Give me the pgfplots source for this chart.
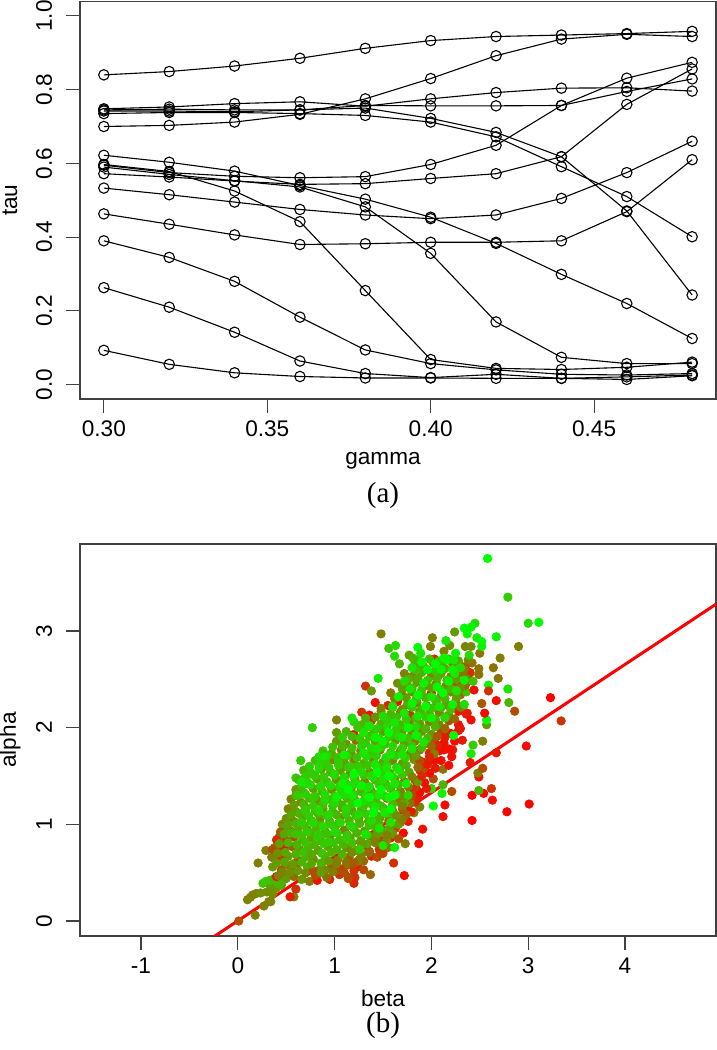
\documentclass[border=0pt]{standalone}
\usepackage{fontspec}
\setmainfont{Liberation Sans}
\newfontfamily\capfont{Liberation Serif}
\usepackage{pgfplots}
\pgfplotsset{compat=1.18}
\pgfplotsset{rbox/.style={
  scale only axis, axis line style={draw=black!75,line width=.55pt},
  tick style={draw=black!75,line width=.55pt},
  tick align=outside, major tick length=7pt,
  xtick pos=bottom, ytick pos=left, clip=true,
  tick label style={font=\fontsize{11.3}{13}\selectfont,inner sep=0pt},
  label style={font=\fontsize{11.3}{13}\selectfont},
  /pgf/number format/assume math mode=true,
  xticklabel style={anchor=center,yshift=-8pt},
  yticklabel style={rotate=90,anchor=center,yshift=11pt},
  xlabel style={at={(axis description cs:0.5,0)},anchor=center,yshift=-31pt,xshift=-7.5pt},
  ylabel style={at={(axis description cs:0,0.5)},anchor=center,rotate=0,yshift=35pt},
}}
\pgfplotsset{ser/.style={black,line width=.55pt,mark=o,mark size=2.6pt,mark options={line width=.55pt,fill=none,solid}}}
\begin{document}
\begin{tikzpicture}[x=1pt,y=1pt]
\path[use as bounding box,fill=white] (0,0) rectangle (358.5,525);
\begin{axis}[rbox,at={(40pt,325.5pt)},anchor=south west,width=318pt,height=198.75pt,
  xmin=0.2927,xmax=0.4873,ymin=-0.039,ymax=1.039,
  xtick={0.30,0.35,0.40,0.45},ytick={0,0.2,0.4,0.6,0.8,1.0},
  /pgf/number format/.cd,fixed,fixed zerofill,precision=2,
  /pgfplots/.cd,
  yticklabel style={/pgf/number format/precision=1},
  xlabel={gamma},ylabel={tau}]
\addplot[ser] coordinates {(0.30,0.840)(0.32,0.849)(0.34,0.864)(0.36,0.885)(0.38,0.912)(0.40,0.933)(0.42,0.944)(0.44,0.948)(0.46,0.952)(0.48,0.958)};
\addplot[ser] coordinates {(0.30,0.700)(0.32,0.703)(0.34,0.712)(0.36,0.733)(0.38,0.775)(0.40,0.830)(0.42,0.892)(0.44,0.937)(0.46,0.950)(0.48,0.944)};
\addplot[ser] coordinates {(0.30,0.748)(0.32,0.753)(0.34,0.762)(0.36,0.767)(0.38,0.755)(0.40,0.775)(0.42,0.792)(0.44,0.804)(0.46,0.805)(0.48,0.796)};
\addplot[ser] coordinates {(0.30,0.745)(0.32,0.747)(0.34,0.745)(0.36,0.745)(0.38,0.757)(0.40,0.756)(0.42,0.756)(0.44,0.757)(0.46,0.795)(0.48,0.829)};
\addplot[ser] coordinates {(0.30,0.742)(0.32,0.742)(0.34,0.740)(0.36,0.745)(0.38,0.750)(0.40,0.722)(0.42,0.684)(0.44,0.618)(0.46,0.471)(0.48,0.243)};
\addplot[ser] coordinates {(0.30,0.735)(0.32,0.738)(0.34,0.738)(0.36,0.735)(0.38,0.730)(0.40,0.712)(0.42,0.672)(0.44,0.591)(0.46,0.510)(0.48,0.401)};
\addplot[ser] coordinates {(0.30,0.622)(0.32,0.603)(0.34,0.579)(0.36,0.540)(0.38,0.503)(0.40,0.454)(0.42,0.383)(0.44,0.299)(0.46,0.220)(0.48,0.125)};
\addplot[ser] coordinates {(0.30,0.595)(0.32,0.575)(0.34,0.565)(0.36,0.561)(0.38,0.564)(0.40,0.597)(0.42,0.649)(0.44,0.757)(0.46,0.831)(0.48,0.874)};
\addplot[ser] coordinates {(0.30,0.572)(0.32,0.563)(0.34,0.552)(0.36,0.543)(0.38,0.545)(0.40,0.559)(0.42,0.572)(0.44,0.618)(0.46,0.760)(0.48,0.856)};
\addplot[ser] coordinates {(0.30,0.533)(0.32,0.515)(0.34,0.495)(0.36,0.475)(0.38,0.460)(0.40,0.450)(0.42,0.460)(0.44,0.505)(0.46,0.575)(0.48,0.660)};
\addplot[ser] coordinates {(0.30,0.463)(0.32,0.435)(0.34,0.406)(0.36,0.380)(0.38,0.382)(0.40,0.386)(0.42,0.386)(0.44,0.390)(0.46,0.469)(0.48,0.610)};
\addplot[ser] coordinates {(0.30,0.590)(0.32,0.570)(0.34,0.553)(0.36,0.536)(0.38,0.482)(0.40,0.356)(0.42,0.170)(0.44,0.074)(0.46,0.057)(0.48,0.057)};
\addplot[ser] coordinates {(0.30,0.597)(0.32,0.578)(0.34,0.525)(0.36,0.442)(0.38,0.255)(0.40,0.068)(0.42,0.044)(0.44,0.041)(0.46,0.047)(0.48,0.061)};
\addplot[ser] coordinates {(0.30,0.390)(0.32,0.345)(0.34,0.280)(0.36,0.183)(0.38,0.094)(0.40,0.057)(0.42,0.040)(0.44,0.028)(0.46,0.026)(0.48,0.030)};
\addplot[ser] coordinates {(0.30,0.263)(0.32,0.210)(0.34,0.142)(0.36,0.064)(0.38,0.030)(0.40,0.019)(0.42,0.028)(0.44,0.017)(0.46,0.021)(0.48,0.026)};
\addplot[ser] coordinates {(0.30,0.093)(0.32,0.055)(0.34,0.032)(0.36,0.022)(0.38,0.018)(0.40,0.018)(0.42,0.017)(0.44,0.017)(0.46,0.014)(0.48,0.024)};
\end{axis}
\node[font=\capfont\fontsize{14.5}{16}\selectfont] at (191.5,277) {(a)};
\begin{axis}[rbox,at={(40pt,57pt)},anchor=south west,width=318pt,height=196pt,
  xmin=-1.63,xmax=4.94,ymin=-0.155,ymax=3.9,
  xtick={-1,0,1,2,3,4},ytick={0,1,2,3},
  xlabel={beta},ylabel={alpha},
  colormap={rg}{rgb255=(255,0,0) rgb255=(0,255,0)},
  point meta min=0,point meta max=1]
\addplot[scatter,only marks,mark=*,mark size=2.1pt,point meta=explicit,
  scatter/use mapped color={draw=mapped color,fill=mapped color}] coordinates {
(0.01,0.00)[.3](0.18,0.06)[.5](0.10,0.22)[.5](0.13,0.245)[.5](0.155,0.27)[.5](0.19,0.285)[.5](0.235,0.29)[.55](0.26,0.39)[.75](0.29,0.41)[.8](0.34,0.355)[.6](0.32,0.20)[.5](0.27,0.155)[.5](0.34,0.20)[.5](0.395,0.34)[.6](0.45,0.37)[.65](0.48,0.43)[.7](0.30,0.30)[.55](0.36,0.28)[.55](0.42,0.38)[.7](0.33,0.42)[.75](0.38,0.44)[.7]
(0.21,0.60)[.5](0.29,0.73)[.5](0.42,0.74)[.1](0.40,0.46)[.1](0.46,1.00)[.5](0.58,0.25)[.5](0.54,0.25)[.1](0.60,0.33)[.2](0.74,0.41)[.5](0.82,0.42)[.05](0.95,0.43)[.15](1.15,0.45)[.35](1.21,0.45)[.2](1.20,0.39)[.15](1.37,0.48)[.4](1.72,0.47)[.05](1.61,0.60)[.2](1.73,0.80)[.5](1.87,0.80)[.05](1.91,0.95)[.05](1.71,0.91)[.05](1.68,1.02)[.3](1.82,1.12)[.5](1.88,1.18)[.5](1.86,1.27)[.1]
(2.42,1.04)[0](3.01,1.21)[0](2.78,1.13)[0](2.63,1.25)[.05](2.42,1.30)[0](2.54,1.32)[.05](2.49,1.35)[.7](2.62,1.37)[.2](2.49,1.49)[.05](2.48,1.53)[.5](2.53,1.58)[.3](2.40,1.64)[.1](2.98,1.81)[.05](2.67,1.74)[.1](2.41,1.73)[.9](2.43,1.82)[.8](2.53,1.86)[.5](2.57,2.03)[.6](2.57,2.08)[1](2.55,2.15)[.05](2.86,2.17)[.3](2.80,2.26)[.7](2.67,2.28)[.05](2.79,2.40)[.9](2.59,2.44)[.95](2.69,2.51)[.45](2.64,2.62)[.45](2.71,2.72)[.5](2.67,2.94)[.95](2.90,2.84)[.5](3.11,3.09)[1](3.00,3.08)[.85](2.79,3.35)[.8](2.58,3.75)[1](3.23,2.31)[0](3.34,2.07)[.2]
(2.21,1.34)[.3](2.11,1.32)[.95](2.12,1.41)[.7](2.00,1.37)[.85](2.02,1.19)[1](2.14,1.20)[.05](2.12,1.08)[.05](2.12,1.57)[.45](2.18,1.61)[.05](2.21,1.70)[.05]
(1.48,2.97)[.5](1.56,2.82)[.75](1.63,2.85)[.85](1.62,2.74)[.85](1.67,2.66)[.7](1.45,2.51)[.9](1.32,2.43)[.2](1.38,2.38)[.6](0.77,2.00)[.8](1.02,2.08)[.5](1.02,1.95)[.6](0.65,1.66)[.8](0.60,1.48)[.8]
(0.42,0.47)[.5](0.50,0.44)[.6](0.58,0.46)[.4](0.66,0.43)[.6](0.80,0.47)[.3](0.92,0.45)[.4](1.05,0.48)[.2](1.14,0.44)[.3]
(0.36,0.56)[.6](0.45,0.53)[.3](0.53,0.57)[.5](0.61,0.54)[.2](0.72,0.56)[.7](0.85,0.53)[.5](0.97,0.57)[.35](1.08,0.54)[.25](1.24,0.56)[.1](1.30,0.53)[.3]
(0.35,0.66)[.5](0.44,0.64)[.2](0.52,0.67)[.6](0.62,0.63)[.3](0.70,0.66)[.7](0.78,0.64)[.55](0.90,0.67)[.7](1.03,0.63)[.5](1.15,0.66)[.35](1.26,0.64)[.3](1.38,0.67)[.15]
(0.38,0.76)[.45](0.47,0.73)[.2](0.56,0.77)[.35](0.64,0.74)[.6](0.73,0.76)[.7](0.83,0.73)[.6](0.93,0.77)[.65](1.02,0.74)[.7](1.13,0.76)[.55](1.22,0.73)[.6](1.33,0.77)[.3](1.46,0.74)[.2](1.55,0.76)[.45]
(0.42,0.86)[.55](0.50,0.83)[.2](0.58,0.87)[.3](0.67,0.84)[.65](0.76,0.86)[.6](0.86,0.83)[.7](0.95,0.87)[.5](1.05,0.84)[.75](1.16,0.86)[.6](1.27,0.83)[.65](1.38,0.87)[.4](1.47,0.84)[.3](1.58,0.86)[.1]
(0.47,0.96)[.6](0.55,0.93)[.5](0.63,0.97)[.65](0.72,0.94)[.5](0.81,0.96)[.7](0.90,0.93)[.6](1.00,0.97)[.75](1.10,0.94)[.5](1.20,0.96)[.7](1.31,0.93)[.6](1.42,0.97)[.65](1.52,0.94)[.4](1.63,0.96)[.3]
(0.50,1.06)[.55](0.58,1.03)[.45](0.67,1.07)[.6](0.76,1.04)[.7](0.85,1.06)[.55](0.95,1.03)[.7](1.06,1.07)[.5](1.15,1.04)[.7](1.25,1.06)[.6](1.35,1.03)[.7](1.47,1.07)[.6](1.56,1.04)[.4](1.67,1.06)[.5](1.76,1.03)[.1]
(0.52,1.16)[.5](0.60,1.13)[.6](0.70,1.17)[.55](0.80,1.14)[.75](0.88,1.16)[.6](0.98,1.13)[.7](1.08,1.17)[.55](1.18,1.14)[.65](1.28,1.16)[.7](1.40,1.13)[.6](1.50,1.17)[.65](1.60,1.14)[.5](1.70,1.16)[.35](1.79,1.13)[.1]
(0.55,1.26)[.5](0.65,1.23)[.55](0.74,1.27)[.7](0.83,1.24)[.55](0.93,1.26)[.75](1.03,1.23)[.6](1.13,1.27)[.7](1.22,1.24)[.65](1.33,1.26)[.55](1.43,1.23)[.7](1.54,1.27)[.5](1.65,1.24)[.45](1.74,1.26)[.3](1.83,1.23)[.15]
(0.60,1.36)[.6](0.68,1.33)[.7](0.78,1.37)[.6](0.87,1.34)[.7](0.97,1.36)[.55](1.07,1.33)[.75](1.17,1.37)[.6](1.27,1.34)[.7](1.37,1.36)[.55](1.48,1.33)[.6](1.58,1.37)[.7](1.68,1.34)[.5](1.78,1.36)[.2](1.88,1.33)[.05](1.95,1.37)[.1]
(0.63,1.46)[.7](0.72,1.43)[.75](0.82,1.47)[.6](0.92,1.44)[.7](1.02,1.46)[.55](1.11,1.43)[.7](1.21,1.47)[.6](1.31,1.44)[.5](1.42,1.46)[.7](1.52,1.43)[.6](1.62,1.47)[.55](1.72,1.44)[.3](1.83,1.46)[.1](1.93,1.43)[.05](2.02,1.47)[.3]
(0.68,1.56)[.7](0.76,1.53)[.75](0.86,1.57)[.55](0.96,1.54)[.7](1.06,1.56)[.6](1.16,1.53)[.5](1.26,1.57)[.7](1.36,1.54)[.55](1.46,1.56)[.7](1.57,1.53)[.6](1.67,1.57)[.5](1.77,1.54)[.65](1.88,1.56)[.2](1.98,1.53)[.05]
(0.80,1.66)[.7](0.88,1.63)[.8](0.98,1.67)[.5](1.10,1.64)[.6](1.20,1.66)[.45](1.30,1.63)[.7](1.40,1.67)[.55](1.50,1.64)[.65](1.60,1.66)[.5](1.70,1.63)[.6](1.82,1.67)[.55](1.92,1.64)[.1](2.03,1.66)[.05]
(0.88,1.76)[.75](0.97,1.73)[.65](1.07,1.77)[.45](1.17,1.74)[.55](1.27,1.76)[.5](1.37,1.73)[.75](1.47,1.77)[.5](1.58,1.74)[.65](1.68,1.76)[.55](1.78,1.73)[.5](1.88,1.77)[.4](1.98,1.74)[.1](2.08,1.76)[.05]
(1.02,1.86)[.6](1.12,1.83)[.55](1.22,1.87)[.4](1.32,1.84)[.8](1.42,1.86)[.6](1.52,1.83)[.7](1.63,1.87)[.55](1.72,1.84)[.6](1.83,1.86)[.45](1.93,1.83)[.6](2.03,1.87)[.3](2.13,1.84)[.05](2.24,1.86)[.05]
(1.12,1.96)[.7](1.20,1.93)[.05](1.30,1.97)[.15](1.40,1.94)[.7](1.50,1.96)[.6](1.60,1.93)[.75](1.70,1.97)[.6](1.80,1.94)[.5](1.90,1.96)[.55](2.00,1.93)[.6](2.10,1.97)[.2](2.20,1.94)[.05](2.28,1.97)[.05]
(1.20,2.06)[.8](1.28,2.03)[.7](1.38,2.07)[.25](1.48,2.04)[.7](1.58,2.06)[.55](1.68,2.03)[.7](1.78,2.07)[.5](1.88,2.04)[.6](1.98,2.06)[.45](2.08,2.03)[.5](2.18,2.07)[.3](2.28,2.03)[.05]
(1.28,2.16)[.2](1.36,2.13)[.05](1.48,2.17)[.6](1.58,2.14)[.7](1.68,2.16)[.5](1.78,2.13)[.2](1.88,2.17)[.55](1.98,2.14)[.65](2.08,2.16)[.5](2.18,2.13)[.6](2.28,2.17)[.1](2.36,2.14)[.1]
(1.42,2.26)[.05](1.55,2.23)[.15](1.65,2.27)[.05](1.75,2.24)[.7](1.85,2.26)[.5](1.95,2.23)[.65](2.05,2.27)[.5](2.15,2.24)[.6](2.25,2.26)[.45](2.33,2.23)[.7]
(1.58,2.36)[.45](1.70,2.33)[.3](1.80,2.37)[.5](1.90,2.34)[.6](2.00,2.36)[.1](2.10,2.33)[.55](2.20,2.37)[.5](2.30,2.34)[.4](2.36,2.37)[.75]
(1.65,2.46)[.55](1.75,2.43)[.5](1.85,2.47)[.6](1.95,2.44)[.45](2.05,2.46)[.55](2.15,2.43)[.5](2.25,2.47)[.35](2.33,2.44)[.05]
(1.72,2.56)[.5](1.80,2.53)[.55](1.90,2.57)[.7](2.00,2.54)[.5](2.10,2.56)[.6](2.20,2.53)[.5](2.30,2.57)[.45](2.38,2.54)[.2]
(1.83,2.66)[.6](1.92,2.63)[.65](2.02,2.67)[.5](2.12,2.64)[.6](2.22,2.66)[.5](2.32,2.63)[.3](2.42,2.67)[.45]
(1.77,2.75)[.6](1.81,2.72)[.7](1.99,2.84)[.5](2.01,2.93)[.5](2.03,2.71)[.15](2.13,2.79)[.5](2.19,2.85)[.55](2.24,2.99)[.6](2.35,2.84)[.5](2.41,2.84)[.55](2.50,2.77)[.45](2.35,2.63)[.3](2.49,2.61)[.45](2.49,2.55)[.45](2.40,2.57)[.2](2.35,2.44)[.4](2.44,2.39)[.05](2.59,2.38)[.2](2.52,2.25)[.35](2.37,2.15)[.1](2.41,2.08)[.05](2.30,1.99)[.1](2.32,1.87)[.1](2.22,1.77)[.1](2.13,1.77)[.05](2.03,1.73)[.5]
(1.30,0.62)[.4](1.36,0.72)[.3](1.44,0.66)[.3](1.42,0.86)[.55](1.50,0.70)[.25](1.54,0.84)[.55](1.60,0.90)[.6](1.56,0.95)[.7](1.48,0.92)[.7](1.66,0.85)[.3](1.66,1.00)[.6](1.74,1.10)[.4](1.70,1.05)[.5](1.62,1.10)[.7](1.78,1.22)[.45](1.80,1.30)[.25](1.72,1.22)[.7](1.84,1.38)[.2](1.86,1.44)[.6](1.90,1.50)[.15](1.92,1.58)[.3](1.96,1.62)[.1](1.88,1.66)[.3](1.98,1.70)[.15](2.04,1.58)[.1](2.10,1.66)[.05](2.14,1.90)[.1](2.06,1.82)[.15](2.18,1.78)[.05](1.34,0.80)[.65](1.24,0.62)[.5](1.14,0.58)[.4](1.02,0.52)[.3](0.90,0.53)[.55](0.46,0.68)[.2](0.40,0.84)[.15](0.48,0.78)[.1](0.36,0.74)[.3](0.44,0.92)[.35]
% second filling layer
(0.46,0.51)[.5](0.54,0.50)[.55](0.62,0.52)[.6](0.70,0.50)[.55](0.78,0.52)[.3](0.86,0.50)[.6](0.98,0.51)[.5](1.10,0.50)[.3](1.20,0.52)[.2]
(0.40,0.60)[.6](0.48,0.61)[.65](0.57,0.59)[.6](0.66,0.61)[.7](0.76,0.59)[.65](0.86,0.60)[.7](0.94,0.62)[.6](1.02,0.59)[.5](1.12,0.61)[.45](1.20,0.60)[.35]
(0.41,0.70)[.55](0.49,0.71)[.65](0.60,0.69)[.7](0.68,0.71)[.75](0.76,0.69)[.65](0.87,0.70)[.75](0.97,0.71)[.7](1.08,0.69)[.7](1.18,0.71)[.55](1.28,0.69)[.5](1.36,0.71)[.4]
(0.43,0.80)[.6](0.52,0.81)[.7](0.61,0.79)[.7](0.70,0.81)[.75](0.79,0.79)[.7](0.89,0.80)[.8](0.99,0.81)[.75](1.09,0.79)[.7](1.18,0.81)[.75](1.28,0.79)[.6](1.42,0.81)[.5](1.50,0.79)[.4]
(0.48,0.90)[.65](0.55,0.91)[.7](0.66,0.89)[.75](0.75,0.91)[.7](0.84,0.89)[.8](0.92,0.90)[.75](1.03,0.91)[.8](1.13,0.89)[.75](1.23,0.91)[.7](1.34,0.89)[.75](1.44,0.91)[.6](1.54,0.89)[.5]
(0.52,1.00)[.65](0.60,1.01)[.7](0.69,0.99)[.75](0.78,1.01)[.8](0.86,0.99)[.7](0.96,1.00)[.8](1.04,1.01)[.75](1.16,0.99)[.8](1.26,1.01)[.7](1.36,0.99)[.75](1.46,1.01)[.7](1.58,0.99)[.6]
(0.55,1.10)[.65](0.64,1.11)[.7](0.73,1.09)[.8](0.83,1.11)[.7](0.92,1.09)[.8](1.02,1.10)[.7](1.12,1.11)[.8](1.22,1.09)[.75](1.32,1.11)[.8](1.44,1.09)[.7](1.54,1.11)[.7](1.64,1.09)[.55]
(0.58,1.20)[.6](0.68,1.21)[.7](0.78,1.19)[.8](0.88,1.21)[.75](0.98,1.19)[.8](1.08,1.20)[.7](1.18,1.21)[.8](1.30,1.19)[.75](1.38,1.21)[.8](1.48,1.19)[.75](1.60,1.21)[.7](1.70,1.19)[.5]
(0.60,1.30)[.7](0.70,1.31)[.8](0.80,1.29)[.75](0.90,1.31)[.85](1.00,1.29)[.75](1.10,1.30)[.85](1.20,1.31)[.75](1.32,1.29)[.85](1.42,1.31)[.75](1.52,1.29)[.8](1.64,1.31)[.75](1.72,1.29)[.55]
(0.66,1.40)[.75](0.75,1.41)[.85](0.85,1.39)[.8](0.95,1.41)[.85](1.05,1.39)[.8](1.16,1.40)[.85](1.26,1.41)[.75](1.36,1.39)[.85](1.46,1.41)[.8](1.56,1.39)[.8](1.66,1.41)[.7](1.76,1.39)[.45]
(0.70,1.50)[.8](0.79,1.51)[.85](0.89,1.49)[.8](1.00,1.51)[.85](1.10,1.49)[.8](1.20,1.50)[.85](1.30,1.51)[.75](1.40,1.49)[.85](1.50,1.51)[.8](1.60,1.49)[.85](1.70,1.51)[.75](1.80,1.49)[.5]
(0.74,1.60)[.8](0.84,1.61)[.85](0.94,1.59)[.8](1.04,1.61)[.8](1.14,1.59)[.75](1.24,1.60)[.8](1.34,1.61)[.75](1.44,1.59)[.85](1.54,1.61)[.8](1.64,1.59)[.85](1.74,1.61)[.7](1.86,1.59)[.4]
(0.84,1.70)[.85](0.93,1.71)[.8](1.03,1.69)[.75](1.13,1.71)[.8](1.23,1.69)[.75](1.33,1.70)[.85](1.43,1.71)[.8](1.53,1.69)[.85](1.63,1.71)[.8](1.73,1.69)[.8](1.84,1.71)[.6]
(0.98,1.80)[.75](1.08,1.81)[.7](1.18,1.79)[.75](1.28,1.81)[.8](1.38,1.79)[.85](1.48,1.80)[.8](1.60,1.81)[.85](1.70,1.79)[.8](1.80,1.81)[.75](1.90,1.79)[.7](2.00,1.81)[.4]
(1.08,1.90)[.8](1.18,1.91)[.7](1.26,1.89)[.8](1.36,1.91)[.75](1.46,1.89)[.85](1.56,1.90)[.8](1.66,1.91)[.85](1.76,1.89)[.75](1.86,1.91)[.8](1.96,1.89)[.7](2.06,1.91)[.35]
(1.24,2.00)[.75](1.34,2.01)[.8](1.44,1.99)[.8](1.54,2.01)[.85](1.64,1.99)[.8](1.74,2.00)[.75](1.84,2.01)[.85](1.94,1.99)[.7](2.04,2.01)[.7](2.14,1.99)[.4]
(1.32,2.10)[.7](1.42,2.11)[.55](1.54,2.09)[.8](1.64,2.11)[.75](1.74,2.09)[.8](1.84,2.10)[.7](1.94,2.11)[.8](2.04,2.09)[.7](2.14,2.11)[.7](2.24,2.09)[.4]
(1.48,2.20)[.5](1.60,2.21)[.75](1.70,2.19)[.55](1.80,2.21)[.75](1.90,2.19)[.7](2.00,2.20)[.75](2.10,2.21)[.7](2.20,2.19)[.75](2.30,2.21)[.5]
(1.62,2.30)[.5](1.74,2.31)[.6](1.84,2.29)[.75](1.94,2.31)[.7](2.04,2.29)[.75](2.14,2.30)[.7](2.26,2.31)[.6]
(1.70,2.40)[.6](1.80,2.41)[.7](1.90,2.39)[.75](2.00,2.41)[.6](2.10,2.39)[.75](2.20,2.40)[.7](2.30,2.41)[.55]
(1.76,2.50)[.7](1.86,2.51)[.65](1.96,2.49)[.75](2.06,2.51)[.7](2.16,2.49)[.75](2.26,2.50)[.6](2.36,2.51)[.5]
(1.84,2.60)[.75](1.94,2.61)[.7](2.04,2.59)[.8](2.14,2.61)[.7](2.24,2.59)[.7](2.34,2.60)[.45]
(1.86,2.70)[.7](1.98,2.71)[.75](2.08,2.69)[.8](2.18,2.71)[.7](2.28,2.69)[.65](2.38,2.70)[.5]
% brighter upper layer
(0.62,1.30)[.8](0.70,1.42)[.85](0.74,1.52)[.8](0.66,1.44)[.9](0.84,1.58)[.85](0.90,1.70)[.9](0.80,1.50)[.8](0.92,1.62)[.8](0.86,1.40)[.85](0.78,1.28)[.8](0.70,1.15)[.8](0.66,1.02)[.8](0.60,0.90)[.75](0.72,0.92)[.8](0.78,1.02)[.85](0.84,1.14)[.85](0.90,1.26)[.85](0.96,1.40)[.85](1.00,1.52)[.85](1.04,1.64)[.8](0.82,0.86)[.8](0.88,0.98)[.85](0.94,1.10)[.85](1.00,1.22)[.85](1.06,1.36)[.85](1.10,1.48)[.85](1.16,1.60)[.8](0.94,0.82)[.8](1.00,0.92)[.85](1.06,1.02)[.85](1.12,1.16)[.85](1.18,1.30)[.9](1.22,1.42)[.85](1.28,1.54)[.85](1.30,1.74)[.9](1.12,0.86)[.8](1.18,0.98)[.85](1.24,1.10)[.85](1.30,1.24)[.85](1.34,1.38)[.9](1.38,1.50)[.85](1.42,1.62)[.9](1.44,1.78)[.9](1.26,0.74)[.8](1.32,0.90)[.9](1.38,1.04)[.85](1.42,1.18)[.9](1.46,1.30)[.9](1.50,1.46)[.85](1.54,1.58)[.9](1.58,1.72)[.9](1.46,0.96)[.9](1.52,1.12)[.9](1.56,1.28)[.95](1.62,1.42)[.9](1.66,1.56)[.9](1.70,1.72)[.9](1.50,0.78)[.9](1.58,1.02)[.9](1.62,0.76)[.95](1.74,1.42)[.95](1.76,1.30)[.85](1.30,1.95)[.9](1.18,2.10)[.9](1.10,1.72)[.95](1.36,2.02)[.9](1.42,1.90)[.95](1.50,1.86)[.95](1.56,1.95)[1](1.62,2.05)[.9](1.70,1.90)[.9](1.76,2.00)[1](1.80,1.78)[.9](1.84,1.92)[.95](1.92,1.85)[.9](1.50,2.12)[.85](1.60,2.22)[.9](1.66,2.32)[.95](1.72,2.15)[.9](1.80,2.25)[.95](1.86,2.12)[.9](1.94,2.22)[1](2.00,2.10)[.95](2.08,2.22)[.9](2.14,2.10)[.85](2.22,2.24)[.95](2.26,2.38)[.9]
(1.72,2.48)[.85](1.78,2.40)[.9](1.86,2.34)[1](1.92,2.46)[.95](2.00,2.32)[.9](2.06,2.42)[1](2.12,2.36)[1](2.18,2.48)[.95](2.24,2.56)[.9](1.80,2.62)[.9](1.90,2.68)[1](1.96,2.60)[1](2.04,2.66)[1](2.10,2.60)[.95](2.16,2.70)[1](2.22,2.60)[.95](2.30,2.62)[.85]
(1.86,2.83)[1](1.89,2.77)[.9](2.13,2.72)[.95](2.15,2.90)[.9](2.23,2.70)[.9](2.25,2.77)[.95](2.39,2.75)[.85](2.34,2.49)[.95](2.43,2.48)[.75](2.34,2.24)[.85](2.23,1.92)[1](2.45,3.08)[.85](2.41,3.04)[.95](2.34,3.03)[1](2.37,2.97)[.95](2.47,2.93)[.9](2.52,2.89)[1](2.52,2.84)[.95]
(1.02,1.28)[.95](1.08,1.42)[.95](1.14,1.36)[1](1.24,1.22)[1](1.28,1.40)[.95](1.36,1.28)[1](1.40,1.12)[1](1.48,1.36)[1](1.56,1.50)[1](1.62,1.30)[1](1.58,1.16)[1](1.20,1.52)[1](1.44,1.54)[1]
};
\addplot[red,line width=1.5pt] coordinates {(-0.5,-0.33)(5.2,3.45)};
\end{axis}
\node[font=\capfont\fontsize{14.5}{16}\selectfont] at (191.5,12) {(b)};
\end{tikzpicture}
\end{document}
